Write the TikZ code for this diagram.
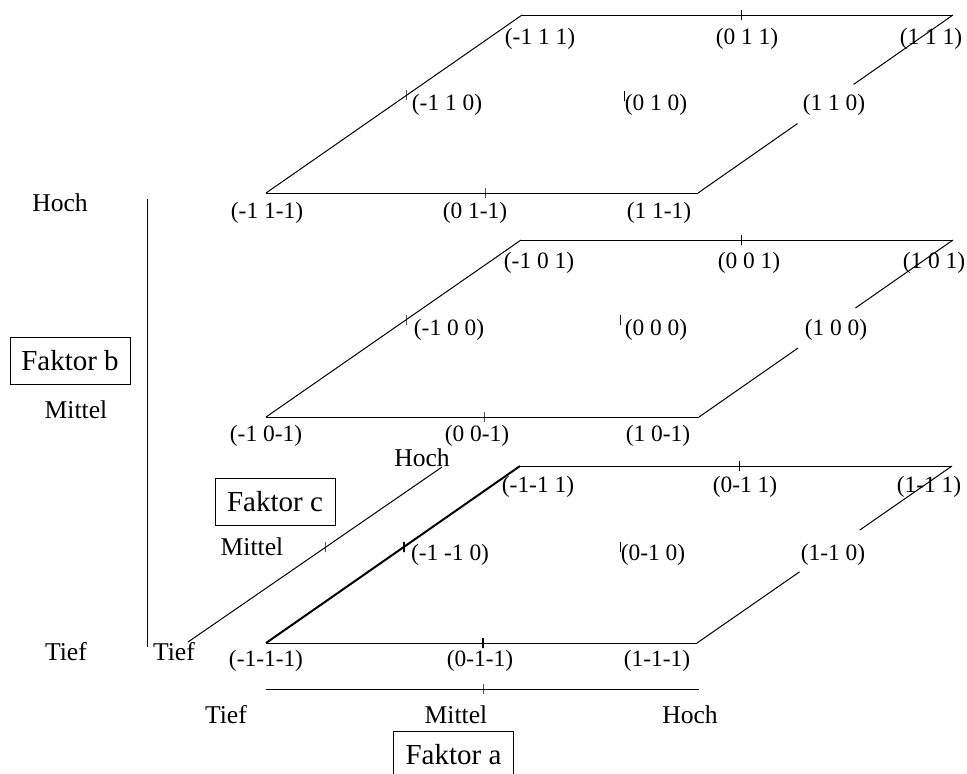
\documentclass[tikz,border=0pt]{standalone}
\usepackage{fontspec}
\setmainfont{Liberation Serif}
\usetikzlibrary{calc}
\tikzset{
  koord/.style={inner sep=0pt, font=\fontsize{11.7}{13}\selectfont},
  stufe/.style={inner sep=0pt, font=\fontsize{12.8}{14}\selectfont},
  faktor/.style={draw, minimum width=60pt, minimum height=23.5pt, inner sep=0pt, font=\fontsize{14.5}{16}\selectfont},
  tickmark/.style={draw, inner sep=0pt, minimum width=0pt, minimum height=5pt},
}

\begin{document}
\begin{tikzpicture}[x=0.5pt, y=-0.5pt, line width=0.5pt]
\useasboundingbox (0,0) rectangle (967,773);
% Ebene b = 1
\coordinate (obl) at (266,193);
\coordinate (obr) at (698,193);
\coordinate (otl) at (522,15);
\coordinate (otr) at (953,15);
\coordinate (oga) at ($(otr)!0.39!(obr)$);
\coordinate (ogb) at ($(otr)!0.61!(obr)$);
\draw (obl) -- (obr);
\draw (obl) -- (otl);
\draw (otl) -- (otr);
\draw (otr) -- (oga);
\draw (ogb) -- (obr);
\node (ot1) at (741,15) [tickmark] {};
\node (ot2) at (485,193) [tickmark] {};
\node (ot3) at (406,95) [tickmark] {};
\node (ot4) at (624,96) [tickmark] {};
\node (ohl) at (540,39) [koord] {(-1 1 1)};
\node (ohm) at (747,39) [koord] {(0 1 1)};
\node (ohr) at (931,39) [koord] {(1 1 1)};
\node (oml) at (447,105) [koord] {(-1 1 0)};
\node (omm) at (656,105) [koord] {(0 1 0)};
\node (omr) at (834,105) [koord] {(1 1 0)};
\node (ovl) at (267,213) [koord] {(-1 1-1)};
\node (ovm) at (475,213) [koord] {(0 1-1)};
\node (ovr) at (659,213) [koord] {(1 1-1)};
% Ebene b = 0
\coordinate (mbl) at (266,417);
\coordinate (mbr) at (699,417);
\coordinate (mtl) at (521,240);
\coordinate (mtr) at (953,240);
\coordinate (mga) at ($(mtr)!0.384!(mbr)$);
\coordinate (mgb) at ($(mtr)!0.61!(mbr)$);
\draw (mbl) -- (mbr);
\draw (mbl) -- (mtl);
\draw (mtl) -- (mtr);
\draw (mtr) -- (mga);
\draw (mgb) -- (mbr);
\node (mt1) at (741,240) [tickmark] {};
\node (mt2) at (484,417) [tickmark] {};
\node (mt3) at (406,320) [tickmark] {};
\node (mt4) at (620,320) [tickmark] {};
\node (mhl) at (539,263) [koord] {(-1 0 1)};
\node (mhm) at (749,263) [koord] {(0 0 1)};
\node (mhr) at (934,263) [koord] {(1 0 1)};
\node (mml) at (449,330) [koord] {(-1 0 0)};
\node (mmm) at (656,330) [koord] {(0 0 0)};
\node (mmr) at (836,330) [koord] {(1 0 0)};
\node (mvl) at (266,436) [koord] {(-1 0-1)};
\node (mvm) at (477,436) [koord] {(0 0-1)};
\node (mvr) at (658,436) [koord] {(1 0-1)};
% Ebene b = -1
\coordinate (ubl) at (266,643);
\coordinate (ubr) at (697,643);
\coordinate (utl) at (520,466);
\coordinate (utr) at (952,466);
\coordinate (uga) at ($(utr)!0.362!(ubr)$);
\coordinate (ugb) at ($(utr)!0.598!(ubr)$);
\draw (ubl) -- (ubr);
\draw[line width=1pt] (ubl) -- (utl);
\draw (utl) -- (utr);
\draw (utr) -- (uga);
\draw (ugb) -- (ubr);
\node (ut1) at (739,466) [tickmark] {};
\node (ut2) at (483,643) [tickmark, line width=0.8pt] {};
\node (ut3) at (404,547) [tickmark, line width=0.8pt] {};
\node (ut4) at (620,547) [tickmark] {};
\node (uhl) at (538,487) [koord] {(-1-1 1)};
\node (uhm) at (745,487) [koord] {(0-1 1)};
\node (uhr) at (929,487) [koord] {(1-1 1)};
\node (uml) at (450,555) [koord] {(-1 -1 0)};
\node (umm) at (653,555) [koord] {(0-1 0)};
\node (umr) at (833,555) [koord] {(1-1 0)};
\node (uvl) at (266,661) [koord] {(-1-1-1)};
\node (uvm) at (480,661) [koord] {(0-1-1)};
\node (uvr) at (657,661) [koord] {(1-1-1)};
% Faktor a
\coordinate (a0) at (266,689);
\coordinate (a1) at (699,689);
\draw (a0) -- (a1);
\node (at) at (483,689) [tickmark] {};
\node (atief) at (226,715) [stufe] {Tief};
\node (amittel) at (456,715) [stufe] {Mittel};
\node (ahoch) at (690,715) [stufe] {Hoch};
\node (fa) at (453.5,754.5) [faktor] {Faktor a};
% Faktor b
\coordinate (b0) at (147,647);
\coordinate (b1) at (147,199);
\draw (b0) -- (b1);
\node (btief) at (66,652) [stufe] {Tief};
\node (bmittel) at (76,410) [stufe] {Mittel};
\node (bhoch) at (60,203) [stufe] {Hoch};
\node (fb) at (70,360.5) [faktor] {Faktor b};
% Faktor c
\coordinate (c0) at (188,642);
\coordinate (c1) at (442,467);
\draw (c0) -- (c1);
\node (ct) at (325,547) [tickmark] {};
\node (ctief) at (174,652) [stufe] {Tief};
\node (cmittel) at (252,547) [stufe] {Mittel};
\node (choch) at (422,458) [stufe] {Hoch};
\node (fc) at (275,502) [faktor] {Faktor c};
\end{tikzpicture}
\end{document}
